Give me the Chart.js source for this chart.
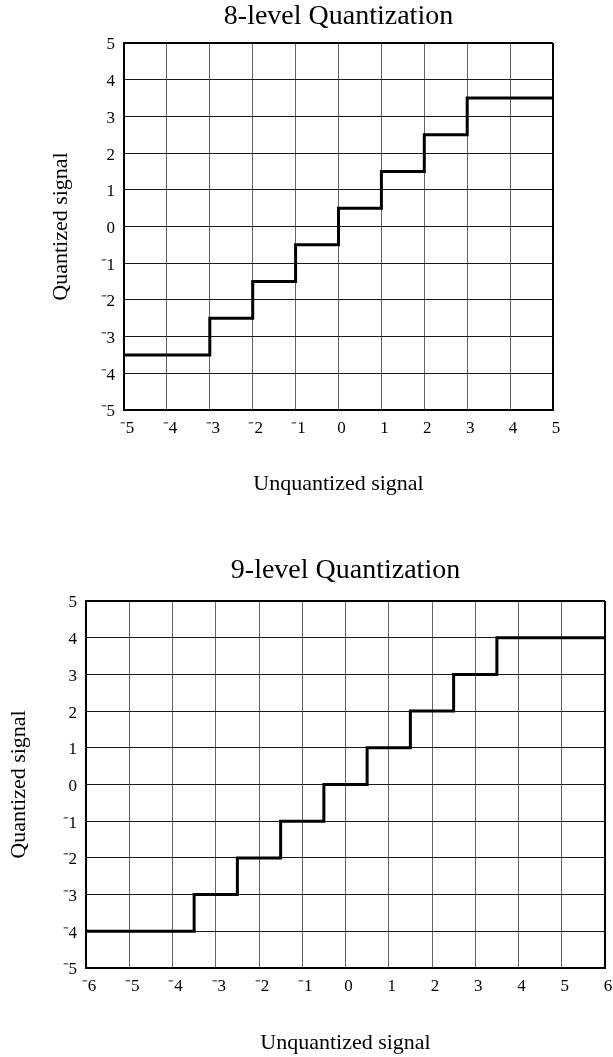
<!DOCTYPE html>
<html><head><meta charset="utf-8">
<script src="https://cdn.jsdelivr.net/npm/chart.js@4"></script>
<style>
html,body{margin:0;padding:0;background:#fff;}
canvas{position:absolute;left:0;}
#c1{top:0;}
#c2{top:528px;}
</style></head><body>
<canvas id="c1" width="613" height="510"></canvas>
<canvas id="c2" width="613" height="529"></canvas>
<script>
// 8-level quantizer: breakpoints (x) and output level held from that x onward
const q8X = [-5, -3, -2, -1, 0, 1, 2, 3, 5];
const q8Y = [-3.5, -2.5, -1.5, -0.5, 0.5, 1.5, 2.5, 3.5, 3.5];
// 9-level quantizer
const q9X = [-6, -3.5, -2.5, -1.5, -0.5, 0.5, 1.5, 2.5, 3.5, 6];
const q9Y = [-4, -3, -2, -1, 0, 1, 2, 3, 4, 4];
const titles = ['8-level Quantization', '9-level Quantization'];
const xTitle = 'Unquantized signal';
const yTitle = 'Quantized signal';
const range8 = { xMin: -5, xMax: 5, yMin: -5, yMax: 5 };
const range9 = { xMin: -6, xMax: 6, yMin: -5, yMax: 5 };

const FAM = '"Liberation Serif", "Times New Roman", Times, serif';
const fmt = v => (v < 0 ? '\u207B' + Math.abs(v) : String(v));

function grid(max, color) {
  return {
    drawTicks: false,
    color: c => (c.tick && c.tick.value === max ? '#000' : color),
    lineWidth: c => (c.tick && c.tick.value === max ? 2 : 1)
  };
}

function make(id, xs, ys, rng, title, L) {
  const pts = xs.map((x, i) => ({ x: x, y: ys[i] }));
  new Chart(document.getElementById(id), {
    type: 'scatter',
    data: { datasets: [{ data: pts, showLine: true, stepped: true, borderColor: '#000', borderWidth: 3, pointRadius: 0, fill: false }] },
    options: {
      responsive: false, animation: false, devicePixelRatio: 1,
      layout: { padding: { left: 0, right: L.padRight, top: 0, bottom: 0 } },
      plugins: {
        legend: { display: false }, tooltip: { enabled: false },
        title: { display: true, fullSize: false, text: title, color: '#000', font: { family: FAM, size: 28, weight: 'normal', lineHeight: 1.2 }, padding: { top: L.titleTop, bottom: L.titleBottom } }
      },
      scales: {
        x: {
          type: 'linear', min: rng.xMin, max: rng.xMax,
          afterFit: s => { s.height = L.xHeight; s.paddingLeft = 0; s.paddingRight = 0; },
          ticks: { stepSize: 1, callback: fmt, color: '#000', font: { family: FAM, size: 17 }, padding: L.xTickPad, labelOffset: 3, maxRotation: 0, autoSkip: false },
          grid: grid(rng.xMax, '#666'),
          border: { display: true, color: '#000', width: 2 },
          title: { display: true, text: xTitle, color: '#000', font: { family: FAM, size: 22, lineHeight: 1.2 }, padding: { top: 0, bottom: L.xTitlePad } }
        },
        y: {
          type: 'linear', min: rng.yMin, max: rng.yMax,
          afterFit: s => { s.width = L.yWidth; },
          ticks: { stepSize: 1, callback: fmt, color: '#000', font: { family: FAM, size: 17 }, padding: 9, labelOffset: 2, autoSkip: false },
          grid: grid(rng.yMax, '#1a1a1a'),
          border: { display: true, color: '#000', width: 2 },
          title: { display: true, text: yTitle, color: '#000', font: { family: FAM, size: 22, lineHeight: 1.2 }, padding: { top: L.yTitlePad, bottom: 0 } }
        }
      }
    }
  });
}

make('c1', q8X, q8Y, range8, titles[0], { padRight: 60, titleTop: 0, titleBottom: 9.4, xHeight: 100, xTickPad: 8, xTitlePad: 12.8, yWidth: 124, yTitlePad: 47.8 });
make('c2', q9X, q9Y, range9, titles[1], { padRight: 8, titleTop: 26, titleBottom: 13.4, xHeight: 89, xTickPad: 8.8, xTitlePad: 0.8, yWidth: 86, yTitlePad: 5.8 });
</script>
</body></html>
